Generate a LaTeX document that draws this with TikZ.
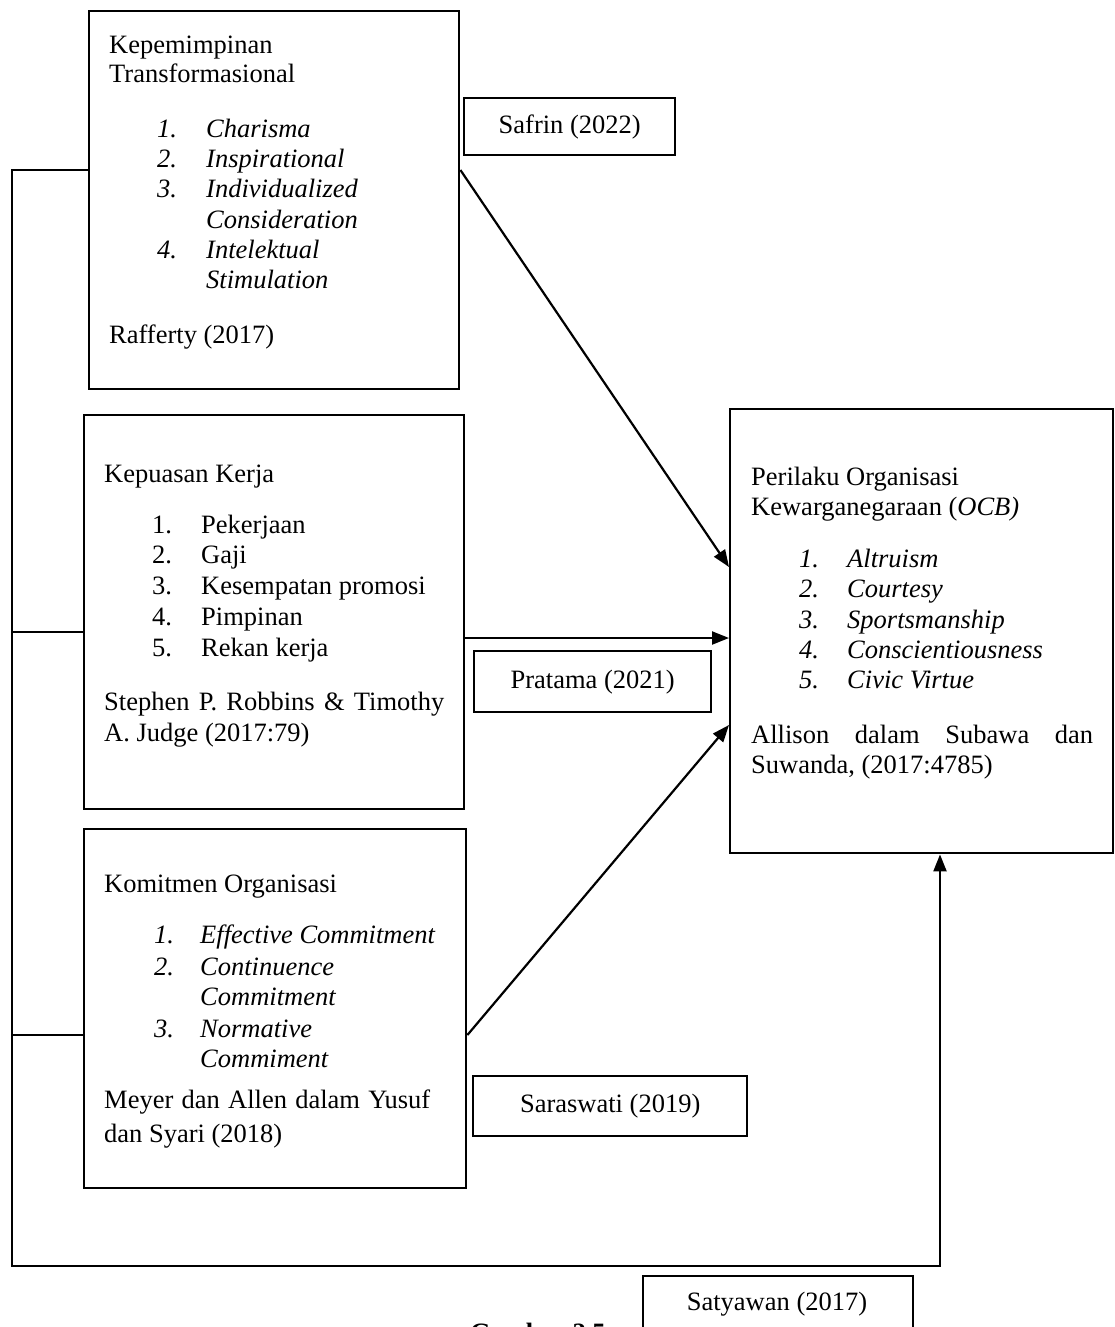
\documentclass[tikz,border=0pt]{standalone}
\usepackage{fontspec}
\setmainfont{Liberation Serif}
\usetikzlibrary{arrows.meta}
\begin{document}
\begin{tikzpicture}[x=1pt,y=-1pt,
  box/.style={draw,line width=2.4pt,inner sep=0pt,anchor=north west,font=\fontsize{26.5}{30.5}\selectfont},
  txt/.style={inner sep=0pt,anchor=base west,font=\fontsize{26.5}{30.5}\selectfont},
  itx/.style={txt,font=\fontsize{26.5}{30.5}\selectfont\itshape},
  con/.style={line width=2.2pt},
  arr/.style={line width=2.2pt,-{Triangle[length=17pt,width=13pt]}}]
\useasboundingbox (0,0) rectangle (1114,1327);
\clip (0,0) rectangle (1114,1327);
% boxes
\node[box,minimum width=370,minimum height=378] (b1) at (88,10) {};
\node[box,minimum width=380,minimum height=394] (b2) at (83,414) {};
\node[box,minimum width=382,minimum height=359] (b3) at (83,828) {};
\node[box,minimum width=383,minimum height=444] (ocb) at (729,408) {};
\node[box,minimum width=211,minimum height=57] (safrin) at (463,97) {Safrin (2022)};
\node[box,minimum width=237,minimum height=61] (pratama) at (473,650) {Pratama (2021)};
\node[box,minimum width=274,minimum height=60] (saras) at (472,1075) {Saraswati (2019)};
\node[box,minimum width=270,minimum height=80] (satya) at (642,1275) {};
\node[txt,anchor=base] (satyat) at (777,1310) {Satyawan (2017)};
% box 1 text
\node[txt] (a1) at (109,54) {Kepemimpinan};
\node[txt] (a2) at (109,83) {Transformasional};
\node[itx] (a3n) at (157,137) {1.}; \node[itx] (a3) at (206,137) {Charisma};
\node[itx] (a4n) at (157,167) {2.}; \node[itx] (a4) at (206,167) {Inspirational};
\node[itx] (a5n) at (157,197) {3.}; \node[itx] (a5) at (206,197) {Individualized};
\node[itx] (a6) at (206,228) {Consideration};
\node[itx] (a7n) at (157,258) {4.}; \node[itx] (a7) at (206,258) {Intelektual};
\node[itx] (a8) at (206,288) {Stimulation};
\node[txt] (a9) at (109,343) {Rafferty (2017)};
% box 2 text
\node[txt] (c1) at (104,482) {Kepuasan Kerja};
\node[txt] (c2n) at (152,533) {1.}; \node[txt] (c2) at (201,533) {Pekerjaan};
\node[txt] (c3n) at (152,563) {2.}; \node[txt] (c3) at (201,563) {Gaji};
\node[txt] (c4n) at (152,594) {3.}; \node[txt] (c4) at (201,594) {Kesempatan promosi};
\node[txt] (c5n) at (152,625) {4.}; \node[txt] (c5) at (201,625) {Pimpinan};
\node[txt] (c6n) at (152,656) {5.}; \node[txt] (c6) at (201,656) {Rekan kerja};
\node[txt] (c7) at (104,710) {\makebox[340pt][s]{Stephen\hfill P.\hfill Robbins\hfill \&\hfill Timothy}};
\node[txt] (c8) at (104,741) {A. Judge (2017:79)};
% box 3 text
\node[txt] (d1) at (104,892) {Komitmen Organisasi};
\node[itx] (d2n) at (154,943) {1.}; \node[itx] (d2) at (200,943) {Effective Commitment};
\node[itx] (d3n) at (154,975) {2.}; \node[itx] (d3) at (200,975) {Continuence};
\node[itx] (d4) at (200,1005) {Commitment};
\node[itx] (d5n) at (154,1037) {3.}; \node[itx] (d5) at (200,1037) {Normative};
\node[itx] (d6) at (200,1067) {Commiment};
\node[txt] (d7) at (104,1108) {\makebox[326pt][s]{Meyer\hfill dan\hfill Allen\hfill dalam\hfill Yusuf}};
\node[txt] (d8) at (104,1142) {dan Syari (2018)};
% OCB text
\node[txt] (e1) at (751,485) {Perilaku Organisasi};
\node[txt] (e2) at (751,515) {Kewarganegaraan (\textit{OCB)}};
\node[itx] (e3n) at (799,567) {1.}; \node[itx] (e3) at (847,567) {Altruism};
\node[itx] (e4n) at (799,597) {2.}; \node[itx] (e4) at (847,597) {Courtesy};
\node[itx] (e5n) at (799,628) {3.}; \node[itx] (e5) at (847,628) {Sportsmanship};
\node[itx] (e6n) at (799,658) {4.}; \node[itx] (e6) at (847,658) {Conscientiousness};
\node[itx] (e7n) at (799,688) {5.}; \node[itx] (e7) at (847,688) {Civic Virtue};
\node[txt] (e8) at (751,743) {\makebox[342pt][s]{Allison\hfill dalam\hfill Subawa\hfill dan}};
\node[txt] (e9) at (751,773) {Suwanda, (2017:4785)};
% caption (cut off by the page edge, as in the reference)
\node[txt,font=\fontsize{26.5}{30.5}\selectfont\bfseries] (cap) at (470,1341) {Gambar 2.5};
% connectors
\draw[arr] ([yshift=-160pt]b1.north east) -- ([yshift=-159pt]ocb.north west);
\draw[arr] ([yshift=-224pt]b2.north east) -- ([yshift=-230pt]ocb.north west);
\draw[arr] ([yshift=-207pt]b3.north east) -- ([yshift=-317pt]ocb.north west);
\coordinate (lt) at (12,170);
\coordinate (lb) at (12,1266);
\coordinate (rb) at (940,1266);
\coordinate (j2) at (12,632);
\coordinate (j3) at (12,1035);
\draw[arr] (lt -| b1.west) -- (lt) -- (lb) -- (rb) -- (rb |- ocb.south);
\draw[con] (j2) -- (j2 -| b2.west);
\draw[con] (j3) -- (j3 -| b3.west);
\end{tikzpicture}
\end{document}
